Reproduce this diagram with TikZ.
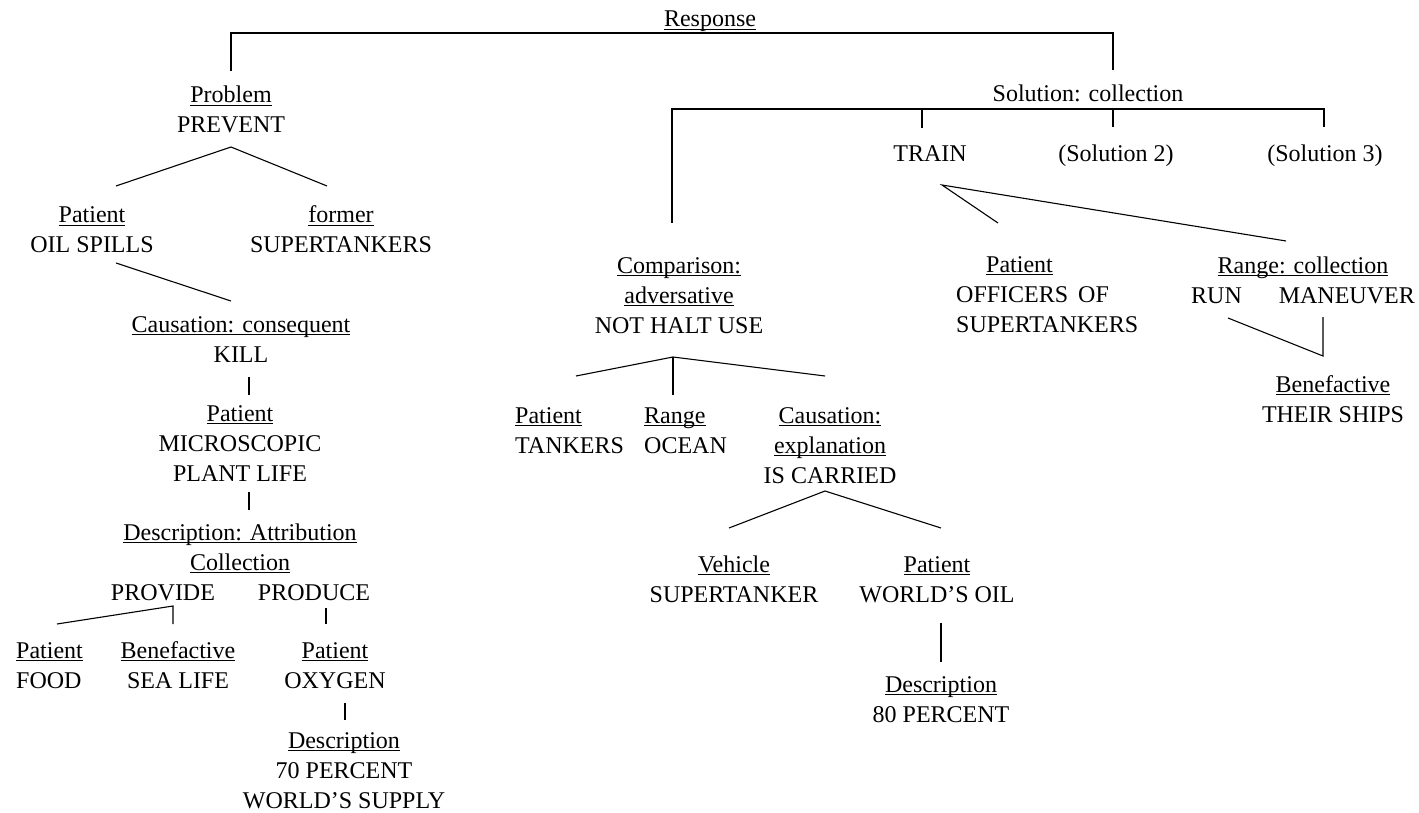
\documentclass[tikz,border=0pt]{standalone}
\usepackage{fontspec}
\setmainfont{Liberation Serif}
% underline drawn at a fixed depth, crossing descenders
\newcommand\uln[1]{\leavevmode\setbox0\hbox{#1}\rlap{\rule[-2.6pt]{\wd0}{0.9pt}}\box0}
\begin{document}
\begin{tikzpicture}[x=1pt,y=-1pt,
  lbl/.style={inner sep=0pt, anchor=base, align=center, font=\fontsize{24}{30}\selectfont},
  lblL/.style={lbl, anchor=base west, align=left},
  link/.style={line width=1.1pt}]
\useasboundingbox (0,0) rectangle (1419,813);

% ---- labels (placed at the baseline of their last line) ----
\node[lbl] (response) at (710,27) {\uln{Response}};
\node[lbl] (problem) at (231,133) {\uln{Problem}\\PREVENT};
\node[lbl] (pat1) at (92,253) {\uln{Patient}\\OIL SPILLS};
\node[lbl] (former) at (341,253) {\uln{former}\\SUPERTANKERS};
\node[lbl] (caus1) at (241,362) {\uln{Causation: consequent}\\KILL};
\node[lbl] (pat2) at (240,481) {\uln{Patient}\\MICROSCOPIC\\PLANT LIFE};
\node[lbl] (descr1) at (240,570) {\uln{Description: Attribution}\\\uln{Collection}};
\node[lbl] (provide) at (163,600) {PROVIDE};
\node[lbl] (produce) at (314,600) {PRODUCE};
\node[lblL] (pat3) at (16,688) {\uln{Patient}\\FOOD};
\node[lbl] (benef1) at (178,688) {\uln{Benefactive}\\SEA LIFE};
\node[lbl] (pat4) at (335,688) {\uln{Patient}\\OXYGEN};
\node[lbl] (descr2) at (344,808) {\uln{Description}\\70 PERCENT\\WORLD’S SUPPLY};

\node[lbl] (solution) at (1088,102) {Solution: collection};
\node[lbl] (train) at (930,162) {TRAIN};
\node[lbl] (sol2) at (1116,162) {(Solution 2)};
\node[lbl] (sol3) at (1325,162) {(Solution 3)};
\node[lbl] (comp) at (679,333) {\uln{Comparison:}\\\uln{adversative}\\NOT HALT USE};
\node[lblL] (pat5) at (515,453) {\uln{Patient}\\TANKERS};
\node[lblL] (range1) at (644,453) {\uln{Range}\\OCEAN};
\node[lbl] (caus2) at (830,483) {\uln{Causation:}\\\uln{explanation}\\IS CARRIED};
\node[lbl] (vehicle) at (734,602) {\uln{Vehicle}\\SUPERTANKER};
\node[lbl] (pat6) at (937,602) {\uln{Patient}\\WORLD’S OIL};
\node[lbl] (descr3) at (941,722) {\uln{Description}\\80 PERCENT};
\node[lblL] (pat7) at (956,332) {\hspace*{30pt}\uln{Patient}\\OFFICERS\hspace{10pt}OF\\SUPERTANKERS};
\node[lbl] (range2) at (1303,303) {\uln{Range: collection}\\RUN\hspace{37pt}MANEUVER};
\node[lbl] (benef2) at (1333,422) {\uln{Benefactive}\\THEIR SHIPS};

% ---- connector end points ----
\coordinate (problem-top) at (231,71);
\coordinate (response-bar) at (710,33);
\coordinate (solution-top) at (1113,70);
\coordinate (comp-top) at (672,223);
\coordinate (solbar-r) at (1324,109);
\coordinate (solbar-r-end) at (1324,127);
\coordinate (train-bar) at (922,109);
\coordinate (train-top) at (922,128);
\coordinate (sol2-bar) at (1113,109);
\coordinate (sol2-top) at (1113,127);

\coordinate (prevent-b) at (231,147);
\coordinate (pat1-t) at (116,186);
\coordinate (former-t) at (327,186);
\coordinate (oil-b) at (116,263);
\coordinate (caus1-t) at (231,301);
\coordinate (kill-b) at (249,377);
\coordinate (pat2-t) at (249,395);
\coordinate (plant-b) at (249,492);
\coordinate (descr1-t) at (249,510);
\coordinate (provide-b) at (173,606);
\coordinate (pat3-t) at (57,624);
\coordinate (benef1-t) at (173,624);
\coordinate (produce-b) at (326,608);
\coordinate (pat4-t) at (326,624);
\coordinate (oxygen-b) at (345,703);
\coordinate (descr2-t) at (345,720);

\coordinate (train-b) at (942,185);
\coordinate (pat7-t) at (998,223);
\coordinate (range2-t) at (1286,241);
\coordinate (halt-b) at (673,357);
\coordinate (pat5-t) at (576,376);
\coordinate (range1-t) at (673,395);
\coordinate (caus2-t) at (825,376);
\coordinate (carried-b) at (825,491);
\coordinate (vehicle-t) at (729,528);
\coordinate (pat6-t) at (941,528);
\coordinate (oil6-b) at (941,623);
\coordinate (descr3-t) at (941,662);
\coordinate (run-b) at (1228,318);
\coordinate (maneuver-b) at (1323,317);
\coordinate (benef2-t) at (1323,356);

% ---- connectors ----
\draw[link] (problem-top) |- (response-bar) -| (solution-top);
\draw[link] (comp-top) |- (solbar-r) -- (solbar-r-end);
\draw[link] (train-bar) -- (train-top);
\draw[link] (sol2-bar) -- (sol2-top);

\draw[link] (pat1-t) -- (prevent-b) -- (former-t);
\draw[link] (oil-b) -- (caus1-t);
\draw[link] (kill-b) -- (pat2-t);
\draw[link] (plant-b) -- (descr1-t);
\draw[link] (pat3-t) -- (provide-b) -- (benef1-t);
\draw[link] (produce-b) -- (pat4-t);
\draw[link] (oxygen-b) -- (descr2-t);

\draw[link] (pat7-t) -- (train-b) -- (range2-t);
\draw[link] (pat5-t) -- (halt-b) -- (caus2-t);
\draw[link] (halt-b) -- (range1-t);
\draw[link] (vehicle-t) -- (carried-b) -- (pat6-t);
\draw[link] (oil6-b) -- (descr3-t);
\draw[link] (run-b) -- (benef2-t) -- (maneuver-b);
\end{tikzpicture}
\end{document}
